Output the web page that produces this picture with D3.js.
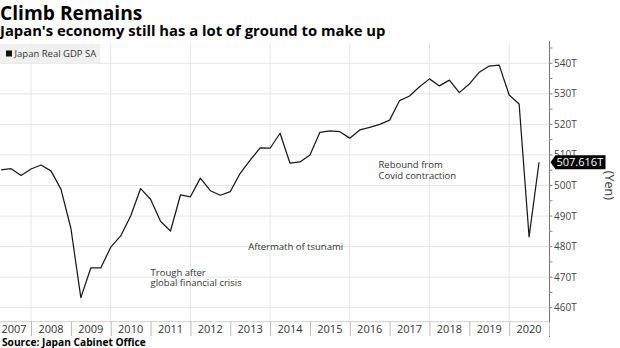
<!DOCTYPE html>
<html>
<head>
<meta charset="utf-8">
<script src="https://cdn.jsdelivr.net/npm/d3@7"></script>
<style>
  html, body { margin: 0; padding: 0; background: #fff; }
  svg { display: block; }
  text { font-family: "Open Sans", sans-serif; }
</style>
</head>
<body>
<svg id="chart" width="620" height="348"></svg>
<script>
// ---- data ----
const quarters = [
  "2007Q1","2007Q2","2007Q3","2007Q4",
  "2008Q1","2008Q2","2008Q3","2008Q4",
  "2009Q1","2009Q2","2009Q3","2009Q4",
  "2010Q1","2010Q2","2010Q3","2010Q4",
  "2011Q1","2011Q2","2011Q3","2011Q4",
  "2012Q1","2012Q2","2012Q3","2012Q4",
  "2013Q1","2013Q2","2013Q3","2013Q4",
  "2014Q1","2014Q2","2014Q3","2014Q4",
  "2015Q1","2015Q2","2015Q3","2015Q4",
  "2016Q1","2016Q2","2016Q3","2016Q4",
  "2017Q1","2017Q2","2017Q3","2017Q4",
  "2018Q1","2018Q2","2018Q3","2018Q4",
  "2019Q1","2019Q2","2019Q3","2019Q4",
  "2020Q1","2020Q2","2020Q3"
];
const gdp = [
  505.1, 505.5, 503.3, 505.4,
  506.7, 504.8, 498.8, 486.0,
  463.3, 473.0, 473.0, 479.8,
  483.5, 490.0, 499.0, 495.5,
  488.3, 485.1, 496.9, 496.3,
  502.4, 498.3, 496.8, 498.0,
  504.0, 508.3, 512.3, 512.2,
  517.1, 507.3, 507.7, 510.0,
  517.4, 517.9, 517.6, 515.5,
  518.2, 519.0, 520.0, 521.4,
  527.8, 529.3, 532.3, 534.9,
  532.6, 534.5, 530.4, 533.2,
  537.1, 539.1, 539.4, 529.6,
  526.7, 483.2, 507.616
];
const yearLabels = ["2007","2008","2009","2010","2011","2012","2013","2014","2015","2016","2017","2018","2019","2020"];
const yTicks = [460, 470, 480, 490, 500, 510, 520, 530, 540];
const yTickLabels = ["460T","470T","480T","490T","500T","510T","520T","530T","540T"];
const seriesName = "Japan Real GDP SA";
const annotations = [
  { lines: ["Trough after", "global financial crisis"], t: 2011.0, v: 470.4 },
  { lines: ["Aftermath of tsunami"], t: 2013.45, v: 479.05 },
  { lines: ["Rebound from", "Covid contraction"], t: 2016.72, v: 505.6 }
];
const lastValueLabel = "507.616T";

// ---- layout ----
const plotTop = 43, plotBottom = 321.7, plotLeft = 0, plotRight = 549;
const svg = d3.select("#chart");

const x = d3.scaleLinear().domain([2007, 2021]).range([-8.8, 549]);
const y = d3.scaleLinear().domain([460, 540]).range([307.7, 63.3]);

const data = quarters.map((q, i) => {
  const yr = +q.slice(0, 4), qn = +q.slice(5);
  return { t: yr + qn / 4, v: gdp[i] };
});

// title
svg.append("text").attr("x", 0).attr("y", 19.8)
  .attr("font-size", 19.2).attr("font-weight", 700).attr("fill", "#000")
  .text("Climb Remains");
svg.append("text").attr("x", 0).attr("y", 35.5)
  .attr("font-size", 14.8).attr("font-weight", 700).attr("fill", "#000")
  .text("Japan's economy still has a lot of ground to make up");

// clip
svg.append("defs").append("clipPath").attr("id", "plotclip")
  .append("rect").attr("x", plotLeft).attr("y", plotTop)
  .attr("width", plotRight - plotLeft).attr("height", plotBottom - plotTop);

const grid = svg.append("g");
grid.selectAll("line.h").data(yTicks).join("line")
  .attr("x1", plotLeft).attr("x2", plotRight)
  .attr("y1", d => y(d)).attr("y2", d => y(d))
  .attr("stroke", "#e6e6e6").attr("stroke-width", 1);
const gridYears = d3.range(2008, 2021, 2);
grid.selectAll("line.v").data(gridYears).join("line")
  .attr("x1", d => x(d)).attr("x2", d => x(d))
  .attr("y1", plotTop).attr("y2", plotBottom)
  .attr("stroke", "#e6e6e6").attr("stroke-width", 1);
grid.append("line").attr("x1", plotLeft).attr("x2", plotRight)
  .attr("y1", plotBottom).attr("y2", plotBottom)
  .attr("stroke", "#d0d0d0").attr("stroke-width", 1);

// legend
svg.append("rect").attr("x", 0).attr("y", 44).attr("width", 100).attr("height", 19)
  .attr("fill", "#f0f0f0");
svg.append("rect").attr("x", 6).attr("y", 50.5).attr("width", 6).attr("height", 6)
  .attr("fill", "#111");
svg.append("text").attr("x", 14.5).attr("y", 57).attr("font-size", 9.5).attr("fill", "#333")
  .text(seriesName);

// annotations (one text element per line)
annotations.forEach(a => {
  a.lines.forEach((l, i) => {
    svg.append("text").attr("font-size", 9.5).attr("fill", "#333")
      .attr("x", x(a.t)).attr("y", y(a.v) + i * 10.2).text(l);
  });
});

// line
const line = d3.line().x(d => x(d.t)).y(d => y(d.v));
svg.append("path").datum(data)
  .attr("clip-path", "url(#plotclip)")
  .attr("d", line).attr("fill", "none")
  .attr("stroke", "#1a1a1a").attr("stroke-width", 1.25)
  .attr("stroke-linejoin", "round");

// right axis
const axis = svg.append("g");
axis.append("line").attr("x1", plotRight + 0.5).attr("x2", plotRight + 0.5)
  .attr("y1", plotTop - 2).attr("y2", 337)
  .attr("stroke", "#777").attr("stroke-width", 1);
const minorTicks = d3.range(455, 546, 5).filter(v => y(v) >= plotTop && y(v) <= plotBottom);
axis.selectAll("line.minor").data(minorTicks).join("line")
  .attr("x1", plotRight + 0.5).attr("x2", plotRight + 3.5)
  .attr("y1", d => y(d)).attr("y2", d => y(d))
  .attr("stroke", "#888").attr("stroke-width", 1);
axis.selectAll("text.tick").data(yTicks).join("text")
  .attr("x", plotRight + 5).attr("y", d => y(d) + 3.5)
  .attr("font-size", 10).attr("fill", "#444")
  .text((d, i) => yTickLabels[i]);

// (Yen)
svg.append("text").attr("transform", `translate(605,${(plotTop + plotBottom) / 2 + 3}) rotate(90)`)
  .attr("text-anchor", "middle").attr("font-size", 12.5).attr("fill", "#333")
  .text("(Yen)");

// bottom year axis
const yearStarts = d3.range(2008, 2022);
svg.selectAll("line.sep").data(yearStarts).join("line")
  .attr("x1", d => x(d) + 0.5).attr("x2", d => x(d) + 0.5)
  .attr("y1", plotBottom).attr("y2", 336)
  .attr("stroke", "#bbb").attr("stroke-width", 1);
svg.selectAll("text.year").data(yearLabels).join("text")
  .attr("x", d => Math.max(x(+d + 0.5), 14))
  .attr("y", 333).attr("text-anchor", "middle")
  .attr("font-size", 11).attr("fill", "#333")
  .text(d => d);

// last value label
const last = data[data.length - 1];
const ly = y(last.v);
const bx = plotRight + 1.5;
svg.append("path")
  .attr("d", `M${bx},${ly} L${bx + 5},${ly - 7} L${bx + 55},${ly - 7} L${bx + 55},${ly + 7} L${bx + 5},${ly + 7} Z`)
  .attr("fill", "#000");
svg.append("text").attr("x", bx + 6).attr("y", ly + 4).attr("font-size", 11)
  .attr("fill", "#fff").text(lastValueLabel);

// source
svg.append("text").attr("x", 2).attr("y", 345.5).attr("font-size", 10.2)
  .attr("font-weight", 700).attr("fill", "#000")
  .text("Source: Japan Cabinet Office");
</script>
</body>
</html>
